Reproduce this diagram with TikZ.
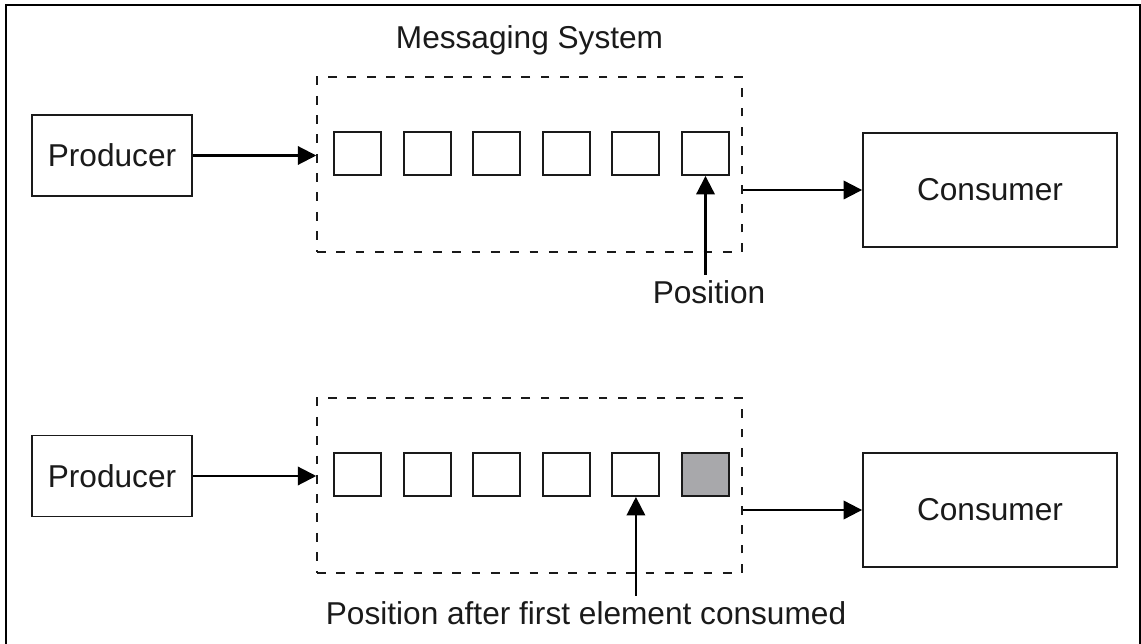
\documentclass[tikz,border=0pt]{standalone}
\usepackage{fontspec}
\setmainfont{Liberation Sans}
\usepackage{xcolor}
\definecolor{inkgray}{HTML}{1A1A1A}
\definecolor{usedgray}{HTML}{A8A8AB}
\usepackage{tikz}
\usetikzlibrary{positioning,arrows.meta}

\begin{document}
\begin{tikzpicture}[x=0.02cm, y=-0.02cm,
    every node/.style={font=\fontsize{18}{21}\selectfont, text=inkgray},
    box/.style={draw=inkgray, line width=1.1pt, inner sep=0pt},
    slot/.style={box, minimum width=0.94cm, minimum height=0.86cm},
    system/.style={draw=inkgray, line width=0.9pt, dash pattern=on 5pt off 6pt,
                   minimum width=8.5cm, minimum height=3.5cm, inner sep=0pt},
    arr/.style={draw=black, line width=1.2pt, -{Triangle[length=10.5pt, width=10.5pt]}},
    frame/.style={draw=black, line width=1.6pt}]
  \useasboundingbox (0,0) rectangle (1141,644);
  \clip (0,0) rectangle (1141,644);
  % outer frame (bottom edge runs off the page)
  \draw[frame] (6,660) -- (6,5) -- (1140,5) -- (1140,660);

  % before consuming
  \node[box, minimum width=3.2cm, minimum height=1.62cm] (prodA) at (112,155.5) {Producer};
  \node[system] (sysA) at (529.5,164.5) {};
  \node[above=0.3cm of sysA] (title) {Messaging System};
  \foreach \i in {1,...,6}
    \node[slot] (sqA\i) at ({357.5+69.6*(\i-1)},153.5) {};
  \node[box, minimum width=5.08cm, minimum height=2.28cm] (consA) at (990,190) {Consumer};
  \node[inner sep=3pt] (posA) at (709,292) {Position};
  \draw[arr] (prodA) -- (sysA.west |- prodA);
  \draw[arr] (sysA.east |- consA) -- (consA.west);
  \draw[arr] (posA.north -| sqA6) -- (sqA6.south);

  % after the first element is consumed
  \node[box, minimum width=3.2cm, minimum height=1.62cm] (prodB) at (112,476) {Producer};
  \node[system] (sysB) at (529.5,485.5) {};
  \foreach \i in {1,...,6}
    \node[slot] (sqB\i) at ({357.5+69.6*(\i-1)},474.5) {};
  \fill[usedgray] (sqB6.south west) rectangle (sqB6.north east);
  \node[slot] at (sqB6) {};
  \node[box, minimum width=5.08cm, minimum height=2.28cm] (consB) at (990,510) {Consumer};
  \node[inner sep=3pt] (posB) at (586,613) {Position after first element consumed};
  \draw[arr] (prodB) -- (sysB.west |- prodB);
  \draw[arr] (sysB.east |- consB) -- (consB.west);
  \draw[arr] (posB.north -| sqB5) -- (sqB5.south);
\end{tikzpicture}
\end{document}
